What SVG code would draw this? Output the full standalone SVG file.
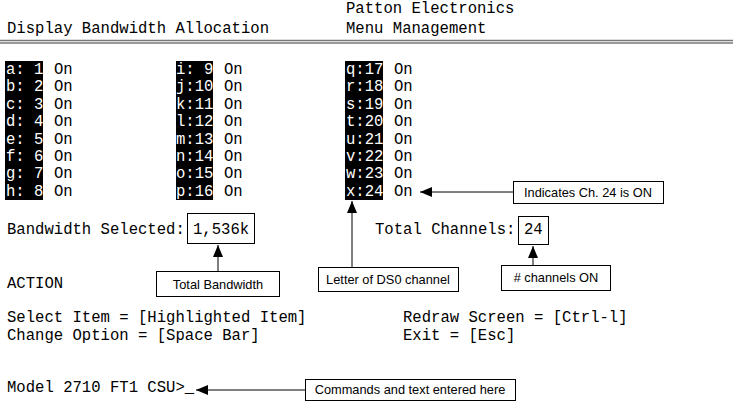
<svg xmlns="http://www.w3.org/2000/svg" width="733" height="407" viewBox="0 0 733 407">
<defs>
<style>
.m{font-family:"Liberation Mono","Courier New",monospace;font-size:15.6px;fill:#000}
.w{font-family:"Liberation Mono","Courier New",monospace;font-size:15.6px;fill:#fff}
.s{font-family:"Liberation Sans",Arial,sans-serif;font-size:12.8px;fill:#000;text-anchor:middle}
.box{fill:#fff;stroke:#000;stroke-width:1}
.con{stroke:#000;stroke-width:1;fill:none;marker-end:url(#ah)}
</style>
<marker id="ah" viewBox="0 0 12 10" refX="12" refY="5" markerWidth="12" markerHeight="10" markerUnits="userSpaceOnUse" orient="auto">
<path d="M0,0 L12,5 L0,10 Z" fill="#000"/>
</marker>
</defs>
<rect width="733" height="407" fill="#fff"/>
<g id="header">
<text class="m" x="346" y="13">Patton Electronics</text>
<text class="m" x="7" y="33">Display Bandwidth Allocation</text>
<text class="m" x="346" y="33">Menu Management</text>
<line x1="0" y1="40.5" x2="733" y2="40.5" stroke="#777" stroke-width="1.5"/>
<line x1="0" y1="43" x2="733" y2="43" stroke="#333" stroke-width="1"/>
</g>
<g id="col1">
<rect x="5" y="61" width="38" height="139" fill="#000"/>
<text class="w" x="6" y="74">a: 1</text><text class="w" x="6" y="91.4">b: 2</text><text class="w" x="6" y="108.8">c: 3</text><text class="w" x="6" y="126.2">d: 4</text>
<text class="w" x="6" y="143.6">e: 5</text><text class="w" x="6" y="161">f: 6</text><text class="w" x="6" y="178.4">g: 7</text><text class="w" x="6" y="195.8">h: 8</text>
<text class="m" x="54" y="74">On</text><text class="m" x="54" y="91.4">On</text><text class="m" x="54" y="108.8">On</text><text class="m" x="54" y="126.2">On</text>
<text class="m" x="54" y="143.6">On</text><text class="m" x="54" y="161">On</text><text class="m" x="54" y="178.4">On</text><text class="m" x="54" y="195.8">On</text>
</g>
<g id="col2">
<rect x="176" y="61" width="37" height="139" fill="#000"/>
<text class="w" x="176" y="74">i: 9</text><text class="w" x="176" y="91.4">j:10</text><text class="w" x="176" y="108.8">k:11</text><text class="w" x="176" y="126.2">l:12</text>
<text class="w" x="176" y="143.6">m:13</text><text class="w" x="176" y="161">n:14</text><text class="w" x="176" y="178.4">o:15</text><text class="w" x="176" y="195.8">p:16</text>
<text class="m" x="224" y="74">On</text><text class="m" x="224" y="91.4">On</text><text class="m" x="224" y="108.8">On</text><text class="m" x="224" y="126.2">On</text>
<text class="m" x="224" y="143.6">On</text><text class="m" x="224" y="161">On</text><text class="m" x="224" y="178.4">On</text><text class="m" x="224" y="195.8">On</text>
</g>
<g id="col3">
<rect x="345" y="61" width="38" height="139" fill="#000"/>
<text class="w" x="346" y="74">q:17</text><text class="w" x="346" y="91.4">r:18</text><text class="w" x="346" y="108.8">s:19</text><text class="w" x="346" y="126.2">t:20</text>
<text class="w" x="346" y="143.6">u:21</text><text class="w" x="346" y="161">v:22</text><text class="w" x="346" y="178.4">w:23</text><text class="w" x="346" y="195.8">x:24</text>
<text class="m" x="394" y="74">On</text><text class="m" x="394" y="91.4">On</text><text class="m" x="394" y="108.8">On</text><text class="m" x="394" y="126.2">On</text>
<text class="m" x="394" y="143.6">On</text><text class="m" x="394" y="161">On</text><text class="m" x="394" y="178.4">On</text><text class="m" x="394" y="195.8">On</text>
</g>
<g id="bandwidth">
<text class="m" x="7" y="234">Bandwidth Selected:</text>
<rect class="box" x="187.5" y="213.5" width="67" height="30"/>
<text class="m" x="193" y="234">1,536k</text>
</g>
<g id="channels">
<text class="m" x="375" y="234">Total Channels:</text>
<rect class="box" x="518.5" y="216.5" width="30" height="28"/>
<text class="m" x="524" y="234">24</text>
</g>
<g id="actions">
<text class="m" x="7" y="288">ACTION</text>
<text class="m" x="7" y="322">Select Item = [Highlighted Item]</text>
<text class="m" x="7" y="340">Change Option = [Space Bar]</text>
<text class="m" x="403" y="322">Redraw Screen = [Ctrl-l]</text>
<text class="m" x="403" y="340">Exit = [Esc]</text>
<text class="m" x="7" y="392">Model 2710 FT1 CSU&gt;_</text>
</g>
<g id="connectors">
<line class="con" x1="513" y1="192" x2="420" y2="192"/>
<line class="con" x1="218" y1="271" x2="218" y2="245"/>
<line class="con" x1="352" y1="267" x2="352" y2="201"/>
<line class="con" x1="533" y1="265" x2="533" y2="246"/>
<line class="con" x1="305" y1="390" x2="196" y2="390"/>
</g>
<g id="note-on">
<rect class="box" x="513.5" y="181.5" width="150" height="22"/>
<text class="s" x="588" y="197">Indicates Ch. 24 is ON</text>
</g>
<g id="note-bw">
<rect class="box" x="156.5" y="271.5" width="123" height="25"/>
<text class="s" x="218" y="288.5">Total Bandwidth</text>
</g>
<g id="note-ds0">
<rect class="box" x="318.5" y="267.5" width="140" height="24"/>
<text class="s" x="388" y="284">Letter of DS0 channel</text>
</g>
<g id="note-ch">
<rect class="box" x="501.5" y="265.5" width="109" height="25"/>
<text class="s" x="556" y="282">&#35; channels ON</text>
</g>
<g id="note-cmd">
<rect class="box" x="305.5" y="379.5" width="210" height="21"/>
<text class="s" x="410" y="394">Commands and text entered here</text>
</g>
</svg>
